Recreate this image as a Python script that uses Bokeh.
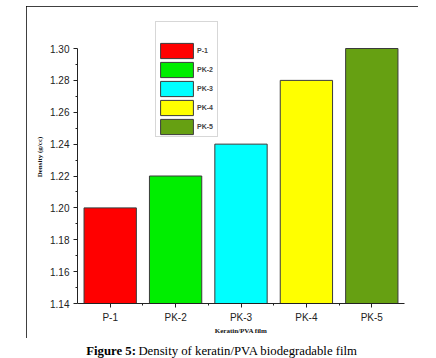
from bokeh.plotting import figure
from bokeh.models import (ColumnDataSource, FixedTicker, Range1d, Legend, LegendItem,
                          NumeralTickFormatter, Column)
from bokeh.embed import file_html
from bokeh.resources import INLINE
from bokeh.core.properties import value

samples = ["P-1", "PK-2", "PK-3", "PK-4", "PK-5"]
density = [1.20, 1.22, 1.24, 1.28, 1.30]
colors = ["#ff0000", "#00ee00", "#00ffff", "#ffff00", "#66a012"]
y_ticks = [1.14, 1.16, 1.18, 1.20, 1.22, 1.24, 1.26, 1.28, 1.30]
x_label = "Keratin/PVA film"
y_label = "Density (g/cc)"
caption_bold = "Figure 5:"
caption_text = "Density of keratin/PVA biodegradable film"

xpos = [i + 0.5 for i in range(len(samples))]
src = ColumnDataSource(dict(x=xpos, top=density, color=colors, name=samples))

# the frame reaches above the y axis so that the legend box is not clipped
axis_px = 255          # pixel height of the 1.14 .. 1.30 axis
extra_px = 38          # frame pixels above the axis top
y_span = y_ticks[-1] - y_ticks[0]
y_end = y_ticks[-1] + y_span * extra_px / axis_px

p = figure(width=392, height=332, x_range=Range1d(0, len(samples)),
           y_range=Range1d(y_ticks[0], y_end),
           output_backend="svg", toolbar_location=None,
           min_border_left=51, min_border_right=14,
           min_border_top=4, min_border_bottom=35)
p.background_fill_color = "white"
p.border_fill_color = "white"
p.outline_line_color = None
p.grid.visible = False
p.margin = (6, 0, 0, 26)
p.styles = {"outline": "1px solid black", "outline-offset": "-1px"}

bars = p.vbar(x="x", top="top", bottom=y_ticks[0], width=0.8, fill_color="color",
              line_color="#3a3a3a", line_width=1, source=src)
# invisible renderer giving the empty first row of the legend box
blank = p.vbar(x=[], top=[], width=0.8, fill_alpha=0, line_alpha=0)

# axes
xa = p.xaxis[0]
xa.ticker = FixedTicker(ticks=xpos, minor_ticks=[i for i in range(1, len(samples))])
xa.major_label_overrides = {x: s for x, s in zip(xpos, samples)}
xa.axis_label = x_label
ya = p.yaxis[0]
ya.ticker = FixedTicker(ticks=y_ticks,
                        minor_ticks=[(a + b) / 2 for a, b in zip(y_ticks[:-1], y_ticks[1:])])
ya.formatter = NumeralTickFormatter(format="0.00")
ya.axis_label = y_label
ya.bounds = (y_ticks[0], y_ticks[-1])

for ax in (xa, ya):
    ax.axis_line_color = "#222222"
    ax.major_tick_line_color = "#222222"
    ax.minor_tick_line_color = "#222222"
    ax.major_tick_in = 0
    ax.major_tick_out = 4
    ax.minor_tick_in = 0
    ax.minor_tick_out = 2
    ax.major_label_text_font = "Liberation Sans"
    ax.major_label_text_font_size = "10px"
    ax.major_label_text_color = "#222222"
    ax.axis_label_text_font = "Liberation Serif"
    ax.axis_label_text_font_style = "bold"
    ax.axis_label_text_font_size = "7px"
    ax.axis_label_text_color = "#111111"
xa.major_label_standoff = 4
xa.axis_label_standoff = 1
ya.major_label_standoff = 4
ya.axis_label_standoff = 3

# legend
items = [LegendItem(label=" ", renderers=[blank])]
items += [LegendItem(label=s, renderers=[bars], index=i) for i, s in enumerate(samples)]
lg = Legend(items=items, location=(78, 166))
lg.margin = 0
lg.padding = 0
lg.spacing = 0
lg.glyph_width = 41
lg.glyph_height = 19
lg.label_height = 19
lg.label_standoff = 0
lg.label_text_font = "Liberation Sans"
lg.label_text_font_style = "bold"
lg.label_text_font_size = "7px"
lg.border_line_color = "#b0b0b0"
lg.border_line_width = 1
lg.background_fill_color = "white"
p.add_layout(lg)

# caption below the framed chart
cap = figure(width=392, height=20, x_range=Range1d(0, 392), y_range=Range1d(0, 20),
             output_backend="svg", toolbar_location=None,
             x_axis_type=None, y_axis_type=None,
             min_border=0, min_border_left=0, min_border_right=0,
             min_border_top=0, min_border_bottom=0)
cap.margin = (0, 0, 0, 26)
cap.outline_line_color = None
cap.grid.visible = False
cap.background_fill_color = "white"
cap.border_fill_color = "white"
cap.text(x=[70], y=[7.5], text=[caption_bold], text_align="right",
         text_baseline="alphabetic", text_font=value("Liberation Serif"),
         text_font_style="bold", text_font_size="12.75px", text_color="black")
cap.text(x=[73], y=[7.5], text=[caption_text], text_align="left",
         text_baseline="alphabetic", text_font=value("Liberation Serif"),
         text_font_size="12.75px", text_color="black")

layout = Column(children=[p, cap], spacing=0)
open("out.html", "w").write(file_html(layout, INLINE))
